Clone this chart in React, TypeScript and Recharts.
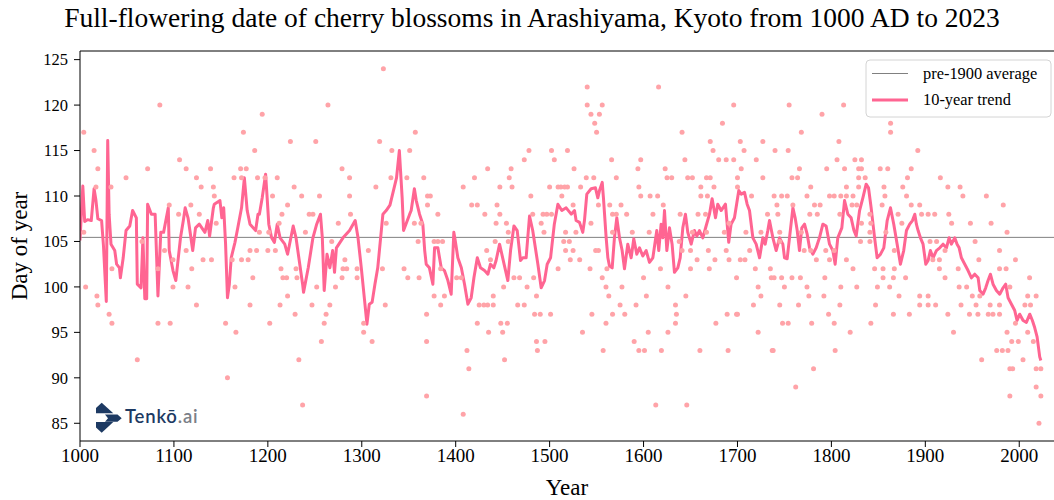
import React from "react";
import { ComposedChart, Scatter, Line, XAxis, YAxis, ReferenceLine } from "recharts";

// 字体和颜色
const FONT = "'Liberation Serif', 'Times New Roman', serif";
const POINT_COLOR = "#ffa3a8";
const TREND_COLOR = "#ff6592";
const AVG_COLOR = "#808080";

const xTicks = [1000, 1100, 1200, 1300, 1400, 1500, 1600, 1700, 1800, 1900, 2000];
const yTicks = [85, 90, 95, 100, 105, 110, 115, 120, 125];
const pre1900Average = 105.45;

// full-flowering dates [year, day of year]
const blossoms1000s: [number, number][] = [
  [1004, 117], [1085, 120], [1015, 115], [1019, 113], [1017, 111], [1004, 106], [1006, 100], [1018, 99],
  [1019, 98], [1031, 97], [1034, 96], [1033, 111], [1034, 102], [1049, 112], [1072, 113], [1061, 92],
  [1066, 105], [1083, 96], [1096, 96], [1095, 109], [1099, 100], [1099, 103], [1090, 104], [1083, 102],
];
const blossoms1100s: [number, number][] = [
  [1105, 108], [1106, 114], [1113, 113], [1118, 109], [1124, 112], [1129, 111], [1124, 98], [1115, 100],
  [1119, 102], [1113, 104], [1131, 103], [1139, 113], [1142, 111], [1143, 110], [1145, 107], [1140, 103],
  [1127, 108], [1155, 96], [1157, 90], [1166, 95], [1164, 112], [1171, 113], [1172, 112], [1174, 117],
  [1172, 103], [1165, 100], [1162, 103], [1177, 113], [1186, 115], [1194, 119], [1189, 112], [1191, 106],
  [1188, 104], [1181, 104], [1179, 103], [1184, 101], [1181, 98], [1197, 112],
];
const blossoms1200s: [number, number][] = [
  [1205, 110], [1210, 112], [1224, 116], [1228, 111], [1221, 109], [1215, 108], [1212, 107], [1236, 110],
  [1251, 116], [1264, 120], [1255, 110], [1248, 108], [1244, 108], [1279, 113], [1287, 112], [1287, 110],
  [1288, 108], [1275, 107], [1240, 106], [1268, 105], [1201, 106], [1200, 104], [1208, 104], [1202, 96],
  [1213, 98], [1214, 102], [1220, 101], [1216, 101], [1221, 99], [1229, 97], [1230, 102], [1231, 101],
  [1233, 92], [1237, 87], [1247, 98], [1252, 100], [1257, 94], [1260, 96], [1262, 97], [1266, 98],
  [1272, 100], [1279, 101], [1282, 103], [1284, 102], [1280, 102], [1295, 102], [1295, 101],
];
const blossoms1300s: [number, number][] = [
  [1307, 104], [1302, 96], [1302, 95], [1311, 94], [1325, 98], [1315, 111], [1319, 116], [1323, 124],
  [1332, 115], [1331, 112], [1348, 112], [1351, 115], [1326, 107], [1322, 102], [1345, 102], [1349, 101],
  [1357, 117], [1366, 112], [1370, 110], [1373, 110], [1370, 109], [1381, 108], [1356, 107], [1363, 107],
  [1360, 105], [1361, 101], [1369, 97], [1369, 94], [1369, 88], [1377, 99], [1384, 98], [1388, 99],
  [1384, 102], [1377, 105], [1381, 105], [1386, 105],
];
const blossoms1400s: [number, number][] = [
  [1401, 101], [1406, 101], [1408, 111], [1420, 112], [1417, 109], [1423, 109], [1431, 108], [1434, 113],
  [1408, 86], [1412, 93], [1414, 91], [1423, 96], [1435, 95], [1425, 98], [1430, 98], [1434, 98],
  [1440, 98], [1440, 99], [1433, 104], [1437, 103], [1442, 105], [1443, 107], [1444, 109], [1447, 108],
  [1447, 111], [1457, 112], [1459, 113], [1460, 111], [1473, 114], [1478, 115], [1454, 107], [1456, 106],
  [1456, 105], [1451, 100], [1448, 96], [1455, 96], [1450, 95], [1452, 92], [1462, 101], [1468, 101],
  [1466, 98], [1473, 98], [1476, 100], [1483, 101], [1486, 99], [1484, 97], [1490, 97], [1486, 94],
  [1495, 94], [1487, 93], [1480, 110], [1482, 108], [1491, 107], [1494, 106], [1493, 108], [1497, 108],
];
const blossoms1500s: [number, number][] = [
  [1501, 97], [1502, 108], [1500, 111], [1502, 115], [1505, 114], [1519, 115], [1526, 113], [1509, 111],
  [1512, 111], [1516, 111], [1519, 111], [1513, 110], [1517, 106], [1515, 105], [1521, 105], [1517, 104],
  [1522, 103], [1509, 102], [1540, 122], [1540, 120], [1544, 119], [1548, 118], [1550, 117], [1553, 119],
  [1556, 120], [1566, 114], [1571, 112], [1547, 112], [1539, 112], [1533, 111], [1525, 109], [1544, 107],
  [1552, 109], [1564, 109], [1567, 108], [1571, 108], [1576, 109], [1582, 108], [1588, 106], [1567, 106],
  [1528, 106], [1525, 104], [1532, 103], [1549, 104], [1552, 104], [1543, 102], [1556, 101], [1560, 100],
  [1563, 99], [1561, 102], [1545, 97], [1535, 95], [1557, 93], [1560, 96], [1567, 97], [1575, 98],
  [1577, 100], [1580, 97], [1592, 98], [1590, 94], [1595, 93], [1597, 110], [1595, 111], [1594, 113],
  [1597, 114],
];
const blossoms1600s: [number, number][] = [
  [1601, 93], [1605, 95], [1603, 99], [1600, 101], [1606, 106], [1610, 108], [1607, 110], [1615, 110],
  [1621, 109], [1623, 113], [1625, 112], [1630, 112], [1644, 114], [1641, 117], [1616, 122], [1613, 87],
  [1646, 87], [1619, 93], [1626, 95], [1634, 98], [1635, 97], [1634, 96], [1645, 99], [1626, 100],
  [1618, 102], [1639, 108], [1638, 105], [1641, 104], [1647, 112], [1652, 112], [1650, 104], [1652, 106],
  [1650, 102], [1657, 103], [1658, 108], [1661, 110], [1661, 111], [1667, 112], [1671, 112], [1671, 116],
  [1674, 115], [1684, 118], [1680, 114], [1688, 114], [1696, 120], [1696, 114], [1668, 110], [1675, 111],
  [1666, 108], [1667, 106], [1669, 104], [1670, 102], [1676, 103], [1677, 96], [1660, 93], [1690, 93],
  [1689, 97], [1699, 101], [1691, 103], [1688, 104], [1691, 107], [1686, 106], [1699, 97],
];
const blossoms1700s: [number, number][] = [
  [1700, 112], [1700, 111], [1703, 116], [1707, 115], [1720, 114], [1704, 113], [1727, 116], [1727, 112],
  [1715, 110], [1739, 110], [1747, 110], [1753, 110], [1742, 109], [1759, 109], [1732, 108], [1743, 108],
  [1709, 106], [1725, 106], [1745, 106], [1768, 106], [1713, 104], [1745, 105], [1771, 104], [1778, 104],
  [1703, 103], [1708, 103], [1784, 103], [1798, 103], [1719, 102], [1735, 102], [1736, 101], [1739, 101],
  [1747, 101], [1758, 101], [1767, 101], [1793, 101], [1722, 100], [1750, 100], [1774, 100], [1725, 99],
  [1776, 99], [1792, 99], [1717, 98], [1745, 98], [1765, 98], [1700, 97], [1797, 97], [1748, 96],
  [1754, 96], [1779, 96], [1722, 95], [1738, 93], [1737, 93], [1781, 91], [1762, 89], [1740, 115],
  [1754, 115], [1755, 120], [1768, 117], [1766, 113], [1795, 113], [1758, 112], [1764, 112], [1778, 111],
  [1774, 110], [1798, 110], [1782, 109], [1788, 109], [1777, 108], [1785, 108], [1794, 104], [1790, 119],
];
const blossoms1800s: [number, number][] = [
  [1813, 120], [1808, 116], [1806, 114], [1825, 114], [1832, 114], [1814, 113], [1829, 113], [1832, 113],
  [1852, 113], [1860, 113], [1836, 112], [1829, 112], [1816, 111], [1856, 111], [1876, 111], [1803, 110],
  [1810, 110], [1816, 110], [1823, 110], [1829, 111], [1857, 110], [1822, 109], [1827, 109], [1854, 109],
  [1809, 108], [1841, 108], [1871, 108], [1832, 107], [1842, 107], [1841, 106], [1858, 106], [1831, 105],
  [1841, 105], [1803, 104], [1867, 104], [1816, 103], [1823, 102], [1855, 102], [1867, 102], [1846, 102],
  [1855, 101], [1866, 101], [1810, 100], [1827, 100], [1849, 100], [1862, 100], [1872, 99], [1809, 98],
  [1847, 98], [1866, 97], [1803, 96], [1842, 96], [1820, 95], [1804, 93], [1863, 118], [1863, 117],
  [1892, 115], [1885, 113], [1881, 112], [1880, 110], [1885, 109], [1894, 109], [1896, 108], [1875, 107],
  [1879, 101], [1894, 99], [1894, 98], [1883, 97],
];
const blossoms1900s: [number, number][] = [
  [1903, 108], [1910, 108], [1916, 112], [1924, 111], [1937, 111], [1940, 110], [1965, 110], [1983, 109],
  [1925, 108], [1928, 107], [1948, 107], [1970, 107], [1987, 106], [1953, 105], [1905, 105], [1912, 105],
  [1979, 104], [1921, 104], [1908, 103], [1915, 103], [1957, 103], [1996, 103], [1935, 102], [1979, 102],
  [1986, 102], [1915, 102], [1921, 101], [1936, 100], [1944, 100], [1990, 100], [1903, 99], [1950, 99],
  [1958, 99], [1903, 98], [1911, 98], [1938, 98], [1954, 98], [1969, 98], [1979, 98], [1924, 97],
  [1947, 97], [1956, 97], [1967, 97], [1972, 97], [1979, 97], [1930, 95], [1987, 95], [1996, 96],
  [1992, 94], [1999, 94], [1976, 93], [1982, 93], [1988, 93], [1960, 92], [1990, 91], [1993, 91],
  [1990, 88],
];
const blossoms2000s: [number, number][] = [
  [2011, 101], [2009, 99], [2018, 99], [2006, 98], [2012, 98], [2009, 95], [2015, 94], [2004, 92],
  [2018, 91], [2023, 91], [2018, 89], [2023, 88], [2021, 85],
];

// 10-year trend [year, day of year]
const trend1000s: [number, number][] = [
  [1000, 105.1], [1003, 111.1], [1005, 107.2], [1008, 107.4], [1012, 107.3], [1015, 110.8], [1017, 109.5],
  [1019, 107.5], [1023, 107.3], [1025, 104.5], [1028, 98.4], [1029.5, 116.1], [1031, 108], [1033, 104.7],
  [1037, 104], [1039, 102.5], [1042, 102.1], [1043, 101], [1046, 103.2], [1049, 106.2], [1053, 106.7],
  [1056, 108.4], [1060, 107.6], [1061, 100.3], [1065, 99.9], [1067, 105.4], [1069, 98.7], [1071, 98.7],
  [1072, 109.1], [1076, 108], [1080, 108], [1083, 99], [1086, 106], [1089, 106], [1094, 108.7],
  [1095, 104], [1099, 101.8], [1102, 100.7],
];
const trend1100s: [number, number][] = [
  [1107, 105.4], [1110, 107.3], [1112, 108.7], [1115, 107.6], [1117, 106.2], [1120, 104], [1123, 106.5],
  [1127, 106.9], [1133, 106], [1136, 107.3], [1138, 105.6], [1142, 108.7], [1143, 109.1], [1149, 109.5],
  [1151, 107.6], [1153, 108.7], [1155, 104.7], [1157, 98.8], [1159, 100.3], [1161, 103.2], [1165, 104.9],
  [1168, 106.5], [1172, 108.7], [1175, 112], [1178, 108.4], [1181, 106.9], [1187, 106.2], [1189.5, 108],
  [1191, 108], [1194, 109.8], [1197.6, 112.4], [1199, 110.2],
];
const trend1200s: [number, number][] = [
  [1201, 106.9], [1204, 105.4], [1207, 104.9], [1210, 106.9], [1213, 105.4], [1218, 104.7], [1221, 103.6],
  [1227, 106.7], [1230, 105.4], [1233, 103.2], [1237, 100.3], [1238, 99.4], [1243, 102.1], [1248, 105.4],
  [1252, 106.9], [1256, 108], [1258, 105.4], [1260, 99.6], [1263, 103.6], [1266, 102.1], [1269, 104],
  [1271, 101.6], [1273, 104.3], [1280, 105.4], [1287, 106.2], [1293, 107.3], [1296, 105.4], [1299.5, 102.1],
];
const trend1300s: [number, number][] = [
  [1303, 98.5], [1305.5, 95.9], [1308, 98.1], [1311, 98.3], [1314, 100.3], [1317, 102.1], [1322.5, 108],
  [1326, 108.4], [1330, 109], [1337, 112], [1340, 115], [1343, 109.8], [1344.5, 106.2], [1347, 106.9],
  [1351, 108], [1352.6, 108.4], [1356, 110.8], [1358, 109.5], [1361.5, 108], [1365, 106.9], [1367, 104],
  [1368.6, 102.5], [1372, 102.1], [1375.7, 100.3], [1377.5, 104.3], [1381, 104.3], [1384.6, 102.1],
  [1388, 101.8], [1391.7, 100.7], [1395.2, 99.2], [1398, 106], [1399.5, 105.1],
];
const trend1400s: [number, number][] = [
  [1402.3, 103.2], [1406, 102.1], [1409.4, 100.3], [1413, 98.1], [1416.5, 98.8], [1419.4, 101],
  [1423, 103.2], [1426.4, 102.1], [1430.7, 101.8], [1434.3, 101.4], [1437, 102.5], [1440.6, 102.1],
  [1443, 102.9], [1446.7, 104.7], [1450, 103.2], [1455.5, 100.7], [1458.4, 104], [1462, 106.7],
  [1465.5, 106.2], [1469, 102.9], [1471.5, 103.2], [1475, 103.2], [1478.6, 107.8], [1482, 106.2],
  [1487.5, 102.5], [1491, 99.9], [1494.6, 100.7], [1497.4, 102.5],
];
const trend1500s: [number, number][] = [
  [1501, 103.2], [1505, 106.9], [1508.8, 109.1], [1513, 108.4], [1517.6, 108.7], [1523, 108],
  [1526.5, 108.4], [1528.2, 107.3], [1531.8, 107.1], [1535.3, 106], [1537.1, 107.3], [1539.6, 110.2],
  [1544.2, 110.8], [1548.8, 110.9], [1551.3, 109.8], [1553.1, 110.6], [1556, 111.5], [1557.3, 109.8],
  [1560.2, 105.4], [1562, 103.2], [1563.7, 102.3], [1566.6, 102.1], [1569, 105.4], [1571.5, 107.6],
  [1574.4, 105.4], [1577.2, 104], [1579.7, 102], [1583.2, 104.7], [1586.8, 103.2], [1589.6, 105.3],
  [1592.8, 103.6], [1595.7, 104.3], [1599.2, 103.4],
];
const trend1600s: [number, number][] = [
  [1602.8, 104], [1606.3, 102.7], [1609.9, 103.2], [1614.1, 106.2], [1616.2, 104], [1618.7, 106.9],
  [1620.5, 105.4], [1622.3, 108.4], [1624.8, 104], [1627.6, 106.5], [1630.4, 104.7], [1632.9, 101.6],
  [1636.5, 102.1], [1639, 103.2], [1641.8, 106.5], [1644.6, 108], [1647.1, 106], [1650.7, 104.7],
  [1654.2, 106.2], [1656.7, 105.6], [1659.5, 106.2], [1663.1, 105.4], [1666.6, 106.7], [1670.2, 108],
  [1673, 109.7], [1676.6, 107.6], [1679, 109.1], [1682.6, 108.4], [1687.2, 109.1], [1690.7, 104.9],
  [1693.2, 106.9], [1696.8, 107.6],
];
const trend1700s: [number, number][] = [
  [1701.4, 110.6], [1704, 110.2], [1707.5, 110.4], [1710.3, 109.1], [1712.8, 108.4], [1716.4, 105.4],
  [1719.9, 104.7], [1723.5, 103.2], [1727, 105.4], [1729.5, 104.7], [1732.3, 106.2], [1734.1, 107.3],
  [1737.7, 105.4], [1741.2, 104], [1744.8, 105.4], [1748.3, 104.7], [1750.1, 103.2], [1752.9, 103.1],
  [1755.4, 105.4], [1759, 108.7], [1761.4, 107.6], [1763.6, 106.2], [1766, 104], [1768.5, 106.5],
  [1771.4, 106.9], [1774.2, 105.8], [1776.7, 104.3], [1780.2, 103.6], [1783.8, 104.3], [1787.3, 105.4],
  [1790.9, 106.9], [1794.4, 106.7], [1798, 104.7],
];
const trend1800s: [number, number][] = [
  [1801.5, 104], [1804, 102.5], [1806.8, 105.4], [1811.1, 106.5], [1814, 109.5], [1817.5, 108],
  [1821, 107.6], [1824, 106.2], [1826.4, 105.6], [1830, 108.4], [1833.5, 109.8], [1837, 111.3],
  [1839.5, 110.9], [1842.3, 108.7], [1846, 105.4], [1848.7, 103.2], [1852.3, 103.6], [1855.8, 104.3],
  [1859.4, 107.3], [1862.9, 108.7], [1866.4, 106.9], [1870, 104.7], [1873.5, 102.5], [1877, 104],
  [1879.9, 106.2], [1883.4, 106.9], [1886.3, 107.3], [1888.8, 108], [1890.5, 106.9], [1892.3, 106.2],
  [1894.8, 105.4], [1897.6, 104.7],
];
const trend1900s: [number, number][] = [
  [1900.5, 102.5], [1903, 102.9], [1905.4, 104], [1908.3, 103.2], [1911.8, 104], [1915.4, 104.3],
  [1918.9, 104.7], [1922.5, 104.3], [1925.3, 105.4], [1927.8, 104.7], [1931.3, 105.4], [1933.8, 104.7],
  [1936, 104.3], [1938.4, 103.2], [1942, 102.5], [1945.5, 101.8], [1949.1, 101], [1952.6, 101.4],
  [1956.2, 101], [1958, 99.6], [1961.5, 99.2], [1964.3, 99.9], [1966.8, 100.7], [1969.3, 101.4],
  [1972.1, 100.3], [1975.7, 99.6], [1979.2, 99.2], [1982.8, 99.9], [1985.6, 100.3], [1988.1, 98.8],
  [1991.7, 98.1], [1995.2, 97.4], [1997.7, 96.3],
];
const trend2000s: [number, number][] = [
  [2000.5, 97], [2004.1, 96.3], [2007.6, 96.1], [2011.2, 97], [2014, 96.3], [2016.5, 95.5], [2019, 94.5],
  [2021.8, 92.3], [2023, 91.9],
];

const toRows = (pairs: [number, number][]) => pairs.map(([year, day]) => ({ year, day }));

const blossomRows = toRows([
  ...blossoms1000s, ...blossoms1100s, ...blossoms1200s, ...blossoms1300s, ...blossoms1400s,
  ...blossoms1500s, ...blossoms1600s, ...blossoms1700s, ...blossoms1800s, ...blossoms1900s, ...blossoms2000s,
]);
const trendRows = toRows([
  ...trend1000s, ...trend1100s, ...trend1200s, ...trend1300s, ...trend1400s,
  ...trend1500s, ...trend1600s, ...trend1700s, ...trend1800s, ...trend1900s, ...trend2000s,
]);

const Dot = (props: any) => {
  if (props.cx == null || props.cy == null) return null;
  return <circle cx={props.cx} cy={props.cy} r={2.5} fill={POINT_COLOR} />;
};

// Tenkō.ai 水印
function Watermark() {
  return (
    <g>
      <polygon points="96,408 101.7,402.7 113.3,413.3 96,413.3" fill="#1d3a63" />
      <polygon points="96,422 113.3,422 101.7,432.7 96,427.5" fill="#1d3a63" />
      <polygon points="105,414.5 117.5,414.5 121.7,418.2 117.5,421.8 105,421.8 108,418.2" fill="#1d3a63" />
      <text x={125} y={423} fontFamily="Lato, 'Noto Sans', sans-serif" fontSize={18.5} fontWeight={600} letterSpacing={0.8}>
        <tspan fill="#1d3a63">Tenkō</tspan>
        <tspan fill="#7b8088">.ai</tspan>
      </text>
    </g>
  );
}

export default function App() {
  return (
    <div style={{ position: "absolute", left: 0, top: 0, width: 1054, height: 500, background: "#fff", fontFamily: FONT }}>
      <ComposedChart
        width={1054}
        height={500}
        margin={{ top: 51, right: 0, bottom: 0, left: 0 }}
      >
        <XAxis
          type="number"
          dataKey="year"
          domain={[1000, 2037]}
          ticks={xTicks}
          allowDataOverflow
          height={59}
          stroke="#000"
          tickSize={6}
          tickMargin={2}
          tick={{ fontSize: 19, fill: "#000", fontFamily: FONT }}
        />
        <YAxis
          type="number"
          dataKey="day"
          domain={[83.05, 125.95]}
          ticks={yTicks}
          allowDataOverflow
          width={80}
          stroke="#000"
          tickSize={6}
          tickMargin={6}
          tick={{ fontSize: 16.5, fill: "#000", fontFamily: FONT }}
        />
        <ReferenceLine y={125.95} stroke="#000" strokeWidth={1} />
        <ReferenceLine y={pre1900Average} stroke={AVG_COLOR} strokeWidth={1} />
        <Scatter
          name="Full-flowering date"
          data={blossomRows}
          dataKey="day"
          shape={Dot}
          isAnimationActive={false}
        />
        <Line
          name="10-year trend"
          data={trendRows}
          dataKey="day"
          type="linear"
          stroke={TREND_COLOR}
          strokeWidth={3}
          strokeLinejoin="round"
          dot={false}
          activeDot={false}
          isAnimationActive={false}
        />
      </ComposedChart>

      <svg width={1054} height={500} style={{ position: "absolute", left: 0, top: 0, pointerEvents: "none" }}>
        <text x={532} y={27} textAnchor="middle" fontSize={27.5} fontFamily={FONT} fill="#000">
          Full-flowering date of cherry blossoms in Arashiyama, Kyoto from 1000 AD to 2023
        </text>
        <text x={567} y={495} textAnchor="middle" fontSize={23} fontFamily={FONT} fill="#000">
          Year
        </text>
        <text x={27} y={246} textAnchor="middle" fontSize={23} fontFamily={FONT} fill="#000" transform="rotate(-90 27 246)">
          Day of year
        </text>

        {/* legend */}
        <rect x={866} y={60} width={185} height={57} rx={4} fill="#fff" fillOpacity={0.8} stroke="#d4d4d4" />
        <line x1={872} x2={908} y1={73.5} y2={73.5} stroke={AVG_COLOR} strokeWidth={1} />
        <text x={923} y={78.5} fontSize={16.4} fontFamily={FONT} fill="#000">pre-1900 average</text>
        <line x1={872} x2={908} y1={100} y2={100} stroke={TREND_COLOR} strokeWidth={3} />
        <text x={923} y={105} fontSize={16.4} fontFamily={FONT} fill="#000">10-year trend</text>

        <Watermark />
      </svg>
    </div>
  );
}
